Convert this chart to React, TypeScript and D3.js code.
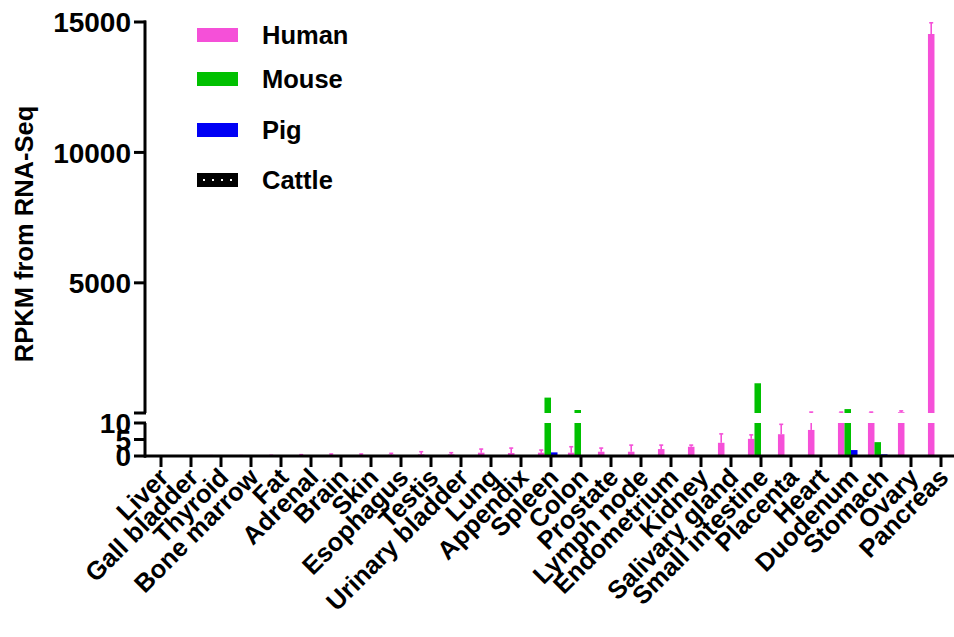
import React, { useEffect, useRef } from "react";
import * as d3 from "d3";

const tissues = [
  "Liver", "Gall bladder", "Thyroid", "Bone marrow", "Fat", "Adrenal", "Brain", "Skin",
  "Esophagus", "Testis", "Urinary bladder", "Lung", "Appendix", "Spleen", "Colon",
  "Prostate", "Lymph node", "Endometrium", "Kidney", "Salivary gland", "Small intestine",
  "Placenta", "Heart", "Duodenum", "Stomach", "Ovary", "Pancreas",
];

const species = ["Human", "Mouse", "Pig", "Cattle"];

const humanMean = [0, 0, 0.05, 0.05, 0.1, 0.2, 0.3, 0.3, 0.4, 0.5, 0.5, 1.0, 0.9, 1.0, 1.0,
  1.3, 1.3, 2.1, 2.8, 4.0, 5.2, 6.6, 7.9, 15, 15, 40, 14540];
const humanTop = [0, 0, 0.1, 0.1, 0.2, 0.4, 0.6, 0.6, 0.8, 1.3, 1.0, 2.1, 2.4, 1.8, 2.8,
  2.4, 3.3, 3.3, 3.3, 6.7, 6.4, 9.6, 45, 45, 45, 90, 14970];
const mouseMean = [0, 0, 0, 0, 0, 0, 0, 0, 0, 0, 0, 0, 0, 600, 125,
  0, 0, 0, 0, 0, 1150, 0, 0, 160, 4.2, 0, 0];
const pigMean = [0, 0, 0, 0, 0, 0, 0, 0, 0, 0, 0, 0, 0, 1.1, 0,
  0, 0, 0, 0, 0, 0, 0, 0, 1.8, 0.5, 0, 0];
const cattleMean = tissues.map(() => 0);

const lowTicks = [0, 5, 10];
const highTicks = [5000, 10000, 15000];

const colors = { Human: "#F550D8", Mouse: "#00C000", Pig: "#0000F5", Cattle: "url(#dots)" };

export default function App() {
  const ref = useRef<SVGSVGElement>(null);

  useEffect(() => {
    const svg = d3.select(ref.current);
    svg.selectAll("*").remove();
    const font = "'Liberation Sans', Arial, sans-serif";

    const defs = svg.append("defs");
    const pat = defs.append("pattern").attr("id", "dots").attr("patternUnits", "userSpaceOnUse")
      .attr("width", 9).attr("height", 14).attr("x", 197).attr("y", 173);
    pat.append("rect").attr("width", 9).attr("height", 14).attr("fill", "black");
    pat.append("rect").attr("x", 6).attr("y", 6).attr("width", 2).attr("height", 2).attr("fill", "white");

    const x = d3.scaleBand().domain(tissues).range([146, 956]).paddingInner(0.13).paddingOuter(0.065);
    const xs = d3.scaleBand().domain(species).range([0, x.bandwidth()]);
    const yLow = d3.scaleLinear().domain([0, 10]).range([456, 423]);
    const yHigh = d3.scaleLinear().domain([10, 15000]).range([413, 22]);

    const series = [
      { name: "Human", vals: humanMean, tops: humanTop },
      { name: "Mouse", vals: mouseMean, tops: null },
      { name: "Pig", vals: pigMean, tops: null },
      { name: "Cattle", vals: cattleMean, tops: null },
    ];

    const g = svg.append("g");
    series.forEach((s) => {
      const fill = (colors as any)[s.name];
      tissues.forEach((t, i) => {
        const v = s.vals[i];
        const bx = (x(t) as number) + (xs(s.name) as number);
        const bw = xs.bandwidth();
        if (v > 0) {
          const lv = Math.min(v, 10);
          g.append("rect").attr("x", bx).attr("width", bw)
            .attr("y", yLow(lv)).attr("height", yLow(0) - yLow(lv)).attr("fill", fill);
          if (v > 10) {
            g.append("rect").attr("x", bx).attr("width", bw)
              .attr("y", yHigh(v)).attr("height", yHigh(10) - yHigh(v)).attr("fill", fill);
          }
        }
        if (s.tops) {
          const top = s.tops[i];
          if (top > v) {
            const cx = bx + bw / 2;
            const segs: [number, number][] = [];
            if (v < 10) segs.push([yLow(v), yLow(Math.min(top, 10))]);
            if (top > 10) segs.push([yHigh(Math.max(v, 10)), yHigh(top)]);
            segs.forEach(([a, b]) => {
              g.append("line").attr("x1", cx).attr("x2", cx).attr("y1", a).attr("y2", b)
                .attr("stroke", fill).attr("stroke-width", 1.6);
            });
            const yt = top > 10 ? yHigh(top) : yLow(top);
            g.append("line").attr("x1", cx - 2).attr("x2", cx + 2).attr("y1", yt).attr("y2", yt)
              .attr("stroke", fill).attr("stroke-width", 1.6);
          }
        }
      });
    });

    // axes
    const ax = svg.append("g").attr("stroke", "black").attr("stroke-width", 3);
    ax.append("line").attr("x1", 145).attr("x2", 145).attr("y1", yHigh(15000) - 1.5).attr("y2", yHigh(10));
    ax.append("line").attr("x1", 145).attr("x2", 145).attr("y1", yLow(10)).attr("y2", yLow(0) + 1.5);
    ax.append("line").attr("x1", 144).attr("x2", 954).attr("y1", yLow(0)).attr("y2", yLow(0));
    const yTickList = [
      ...highTicks.map((v) => ({ y: yHigh(v), label: String(v) })),
      { y: yHigh(10), label: "" },
      ...lowTicks.map((v) => ({ y: yLow(v), label: String(v) })),
    ];
    yTickList.forEach((tk) => {
      ax.append("line").attr("x1", 134).attr("x2", 146).attr("y1", tk.y).attr("y2", tk.y);
      if (tk.label) {
        svg.append("text").attr("x", 131).attr("y", tk.y).attr("dy", "0.36em")
          .attr("text-anchor", "end").attr("font-family", font).attr("font-weight", "bold")
          .attr("font-size", 28).text(tk.label);
      }
    });
    tissues.forEach((t) => {
      const cx = (x(t) as number) + x.bandwidth() / 2;
      ax.append("line").attr("x1", cx).attr("x2", cx).attr("y1", 456).attr("y2", 467);
      svg.append("text").attr("transform", `translate(${cx + 9},${479}) rotate(-45)`)
        .attr("text-anchor", "end").attr("font-family", font).attr("font-weight", "bold")
        .attr("font-size", 25.5).text(t);
    });

    svg.append("text").attr("transform", `translate(33,234) rotate(-90)`)
      .attr("text-anchor", "middle").attr("font-family", font).attr("font-weight", "bold")
      .attr("font-size", 25.5).text("RPKM from RNA-Seq");

    // legend
    const ly = [35, 79, 130, 180];
    species.forEach((s, i) => {
      svg.append("rect").attr("x", 197).attr("y", ly[i] - 7).attr("width", 41).attr("height", 14)
        .attr("fill", (colors as any)[s]);
      svg.append("text").attr("x", 262).attr("y", ly[i]).attr("dy", "0.36em")
        .attr("font-family", font).attr("font-weight", "bold").attr("font-size", 25.5).text(s);
    });
  }, []);

  return (
    <svg ref={ref} width={954} height={637}
      style={{ position: "absolute", left: 0, top: 0, background: "white" }} />
  );
}
